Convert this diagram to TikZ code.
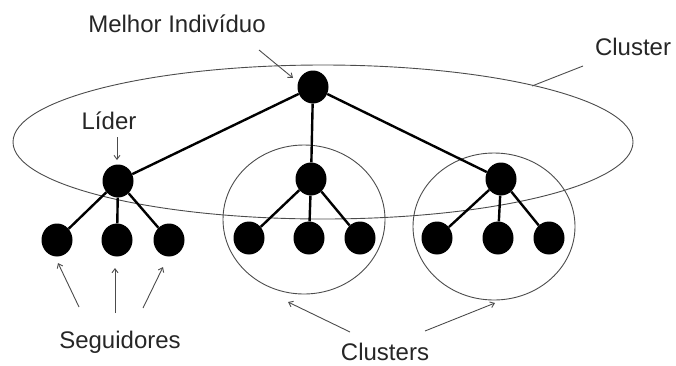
\documentclass[tikz,border=0pt]{standalone}
\usepackage{fontspec}
\setmainfont{Liberation Sans}
\usetikzlibrary{shapes.geometric,arrows.meta}
\begin{document}
\begin{tikzpicture}[x=1pt,y=-1pt,
  member/.style={ellipse,fill=black,draw=none,minimum width=31pt,minimum height=33pt,inner sep=0pt},
  tie/.style={line width=2.4pt,black},
  hull/.style={draw=black!70,line width=0.9pt},
  pointer/.style={draw=black!70,line width=0.9pt,-{Straight Barb[length=4pt,width=6pt]}},
  leader line/.style={draw=black!70,line width=0.9pt},
  caption/.style={font=\fontsize{24}{28}\selectfont,text=black!85,inner sep=0pt}]
\useasboundingbox (0,0) rectangle (676,365);

% cluster outlines
\draw[hull] (323,142) ellipse [x radius=310, y radius=77];
\draw[hull] (304,219.5) ellipse [x radius=81, y radius=74.5];
\draw[hull] (494,226.5) ellipse [x radius=81, y radius=73.5];

% hierarchy links (drawn first so the members cover their ends)
\coordinate (cbest) at (313,87);
\coordinate (cl1) at (118,181);
\coordinate (cl2) at (311,179);
\coordinate (cl3) at (501,179);
\coordinate (cf11) at (57,240);
\coordinate (cf12) at (117,240);
\coordinate (cf13) at (169,240);
\coordinate (cf21) at (249,238);
\coordinate (cf22) at (309,238);
\coordinate (cf23) at (360,238);
\coordinate (cf31) at (437,238);
\coordinate (cf32) at (498,238);
\coordinate (cf33) at (549,238);

% members
\foreach \n in {best,l1,l2,l3,f11,f12,f13,f21,f22,f23,f31,f32,f33}
  \node[member] (\n) at (c\n) {};

\foreach \a/\b in {best/l1,best/l2,best/l3,l1/f11,l1/f12,l1/f13,l2/f21,l2/f22,l2/f23,l3/f31,l3/f32,l3/f33}
  \draw[tie] (\a) -- (\b);

% labels
\node[caption] (tbest) at (177,24) {Melhor Indivíduo};
\node[caption] (tlider) at (109,121) {Líder};
\node[caption] (tcluster) at (633,47) {Cluster};
\node[caption] (tseg) at (120,342) {Seguidores};
\node[caption] (tclus) at (385,352) {Clusters};

% pointers
\coordinate (pbest) at (259,50);
\coordinate (plider) at (117,137);
\coordinate (pcl0) at (583,66);
\coordinate (pcl1) at (532,86);
\coordinate (ps1) at (79,307);
\coordinate (ps2) at (115,313);
\coordinate (ps3) at (143,308);
\coordinate (pc1) at (350,332);
\coordinate (pc2) at (425,331);
\coordinate (hb) at (293,78);
\coordinate (hl) at (117,160);
\coordinate (hs1) at (58,263);
\coordinate (hs2) at (115,268);
\coordinate (hs3) at (163,267);
\coordinate (hc1) at (288,302);
\coordinate (hc2) at (495,303);
\draw[pointer] (pbest) -- (hb);
\draw[pointer] (plider) -- (hl);
\draw[leader line] (pcl0) -- (pcl1);
\draw[pointer] (ps1) -- (hs1);
\draw[pointer] (ps2) -- (hs2);
\draw[pointer] (ps3) -- (hs3);
\draw[pointer] (pc1) -- (hc1);
\draw[pointer] (pc2) -- (hc2);
\end{tikzpicture}
\end{document}
